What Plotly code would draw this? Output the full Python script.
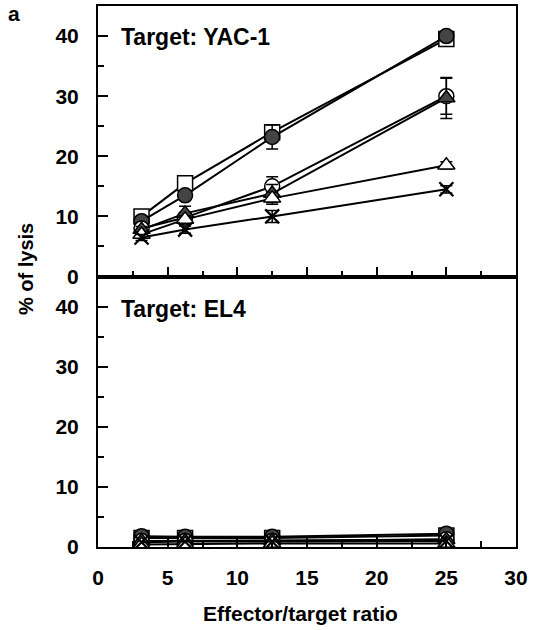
import plotly.graph_objects as go
from plotly.subplots import make_subplots

ratios = [3.125, 6.25, 12.5, 25]

series_names = ["open square", "filled circle", "open circle", "filled triangle", "open triangle", "cross"]
symbols = ["square", "circle", "circle", "triangle-up", "triangle-up", "x-thin-open"]
fills = ["white", "#444444", "white", "#444444", "white", "black"]

# Target: YAC-1 (% lysis)
yac_values = [
    [10.0, 15.5, 24.0, 39.5],
    [9.2, 13.5, 23.2, 40.0],
    [8.0, 9.8, 15.0, 30.0],
    [7.8, 10.5, 13.8, 29.7],
    [7.0, 9.5, 13.0, 18.5],
    [6.5, 7.8, 10.0, 14.5],
]
yac_errors = [
    [0.5, 0.8, 1.0, 0.8],
    [0.5, 0.8, 2.0, 0.6],
    [0.5, 0.8, 1.6, 3.0],
    [0.5, 1.2, 1.5, 3.4],
    [0.4, 0.6, 1.0, 0.6],
    [0.5, 0.6, 1.0, 0.6],
]

# Target: EL4 (% lysis)
el4_values = [
    [1.5, 1.5, 1.5, 1.9],
    [1.8, 1.7, 1.7, 2.2],
    [1.0, 1.0, 1.0, 1.3],
    [1.0, 1.0, 1.1, 1.2],
    [0.4, 0.5, 0.6, 0.6],
    [0.8, 0.9, 0.9, 1.0],
]

x_ticks = [0, 5, 10, 15, 20, 25, 30]
y_ticks = [0, 10, 20, 30, 40]

fig = make_subplots(rows=2, cols=1, shared_xaxes=True, vertical_spacing=0)

for row, vals, errs in [(1, yac_values, yac_errors), (2, el4_values, None)]:
    for i in range(len(series_names)):
        lw = 2.2 if symbols[i] == "x-thin-open" else 1.5
        fig.add_trace(go.Scatter(
            x=ratios, y=vals[i], mode="lines+markers",
            name=series_names[i], showlegend=False,
            line=dict(color="black", width=2),
            marker=dict(symbol=symbols[i], size=15 if symbols[i] != "x-thin-open" else 14,
                        color=fills[i], line=dict(color="black", width=lw)),
            error_y=dict(type="data", array=errs[i], visible=True, color="black",
                         thickness=1.5, width=6) if errs else None,
        ), row=row, col=1)

font_family = "Liberation Sans, Arial, sans-serif"
axis_common = dict(showline=True, linecolor="black", linewidth=2, mirror=True,
                   ticks="inside", tickcolor="black", tickwidth=2, showgrid=False,
                   zeroline=False)
tick_font = dict(family=font_family, size=21, color="black", weight="bold")

fig.update_xaxes(range=[0, 30], tickvals=x_ticks, ticklen=10,
                 minor=dict(dtick=2.5, ticks="inside", ticklen=6, tickcolor="black", tickwidth=2),
                 tickfont=tick_font, **axis_common)
fig.update_xaxes(showticklabels=False, row=1, col=1)
fig.update_xaxes(ticklabelstandoff=11, row=2, col=1)
fig.update_yaxes(range=[0, 45], tickvals=y_ticks, ticklen=10,
                 minor=dict(dtick=5, ticks="inside", ticklen=6, tickcolor="black", tickwidth=2),
                 tickfont=tick_font, ticklabelstandoff=13, **axis_common)

W, H = 536, 630
ML, MR, MT, MB = 98, 20, 4, 83
plot_w = W - ML - MR
plot_h = H - MT - MB


def px(xp, yp):
    return (xp - ML) / plot_w, (H - MB - yp) / plot_h


ax_x, ax_y = px(300, 614)
ly_x, ly_y = px(26, 268)
a_x, a_y = px(14, 12)
t1_x, t1_y = px(119, 35)
t2_x, t2_y = px(119, 308)

fig.update_layout(
    width=W, height=H,
    margin=dict(l=ML, r=MR, t=MT, b=MB),
    plot_bgcolor="white", paper_bgcolor="white",
    font=dict(family=font_family, color="black"),
    annotations=[
        dict(text="<b>Target: YAC-1</b>", x=t1_x, y=t1_y, xref="paper", yref="paper",
             xanchor="left", yanchor="middle", showarrow=False,
             font=dict(size=23, family=font_family)),
        dict(text="<b>Target: EL4</b>", x=t2_x, y=t2_y, xref="paper", yref="paper",
             xanchor="left", yanchor="middle", showarrow=False,
             font=dict(size=23, family=font_family)),
        dict(text="<b>Effector/target ratio</b>", x=ax_x, y=ax_y, xref="paper", yref="paper",
             xanchor="center", yanchor="middle", showarrow=False,
             font=dict(size=21, family=font_family)),
        dict(text="<b>% of lysis</b>", x=ly_x, y=ly_y, xref="paper", yref="paper",
             xanchor="center", yanchor="middle",
             showarrow=False, textangle=-90, font=dict(size=20, family=font_family)),
        dict(text="<b>a</b>", x=a_x, y=a_y, xref="paper", yref="paper",
             xanchor="center", yanchor="middle",
             showarrow=False, font=dict(size=21, family=font_family)),
    ],
)

fig.write_html("out.html", config={"displayModeBar": False},
               post_script="document.body.style.margin='0';")
